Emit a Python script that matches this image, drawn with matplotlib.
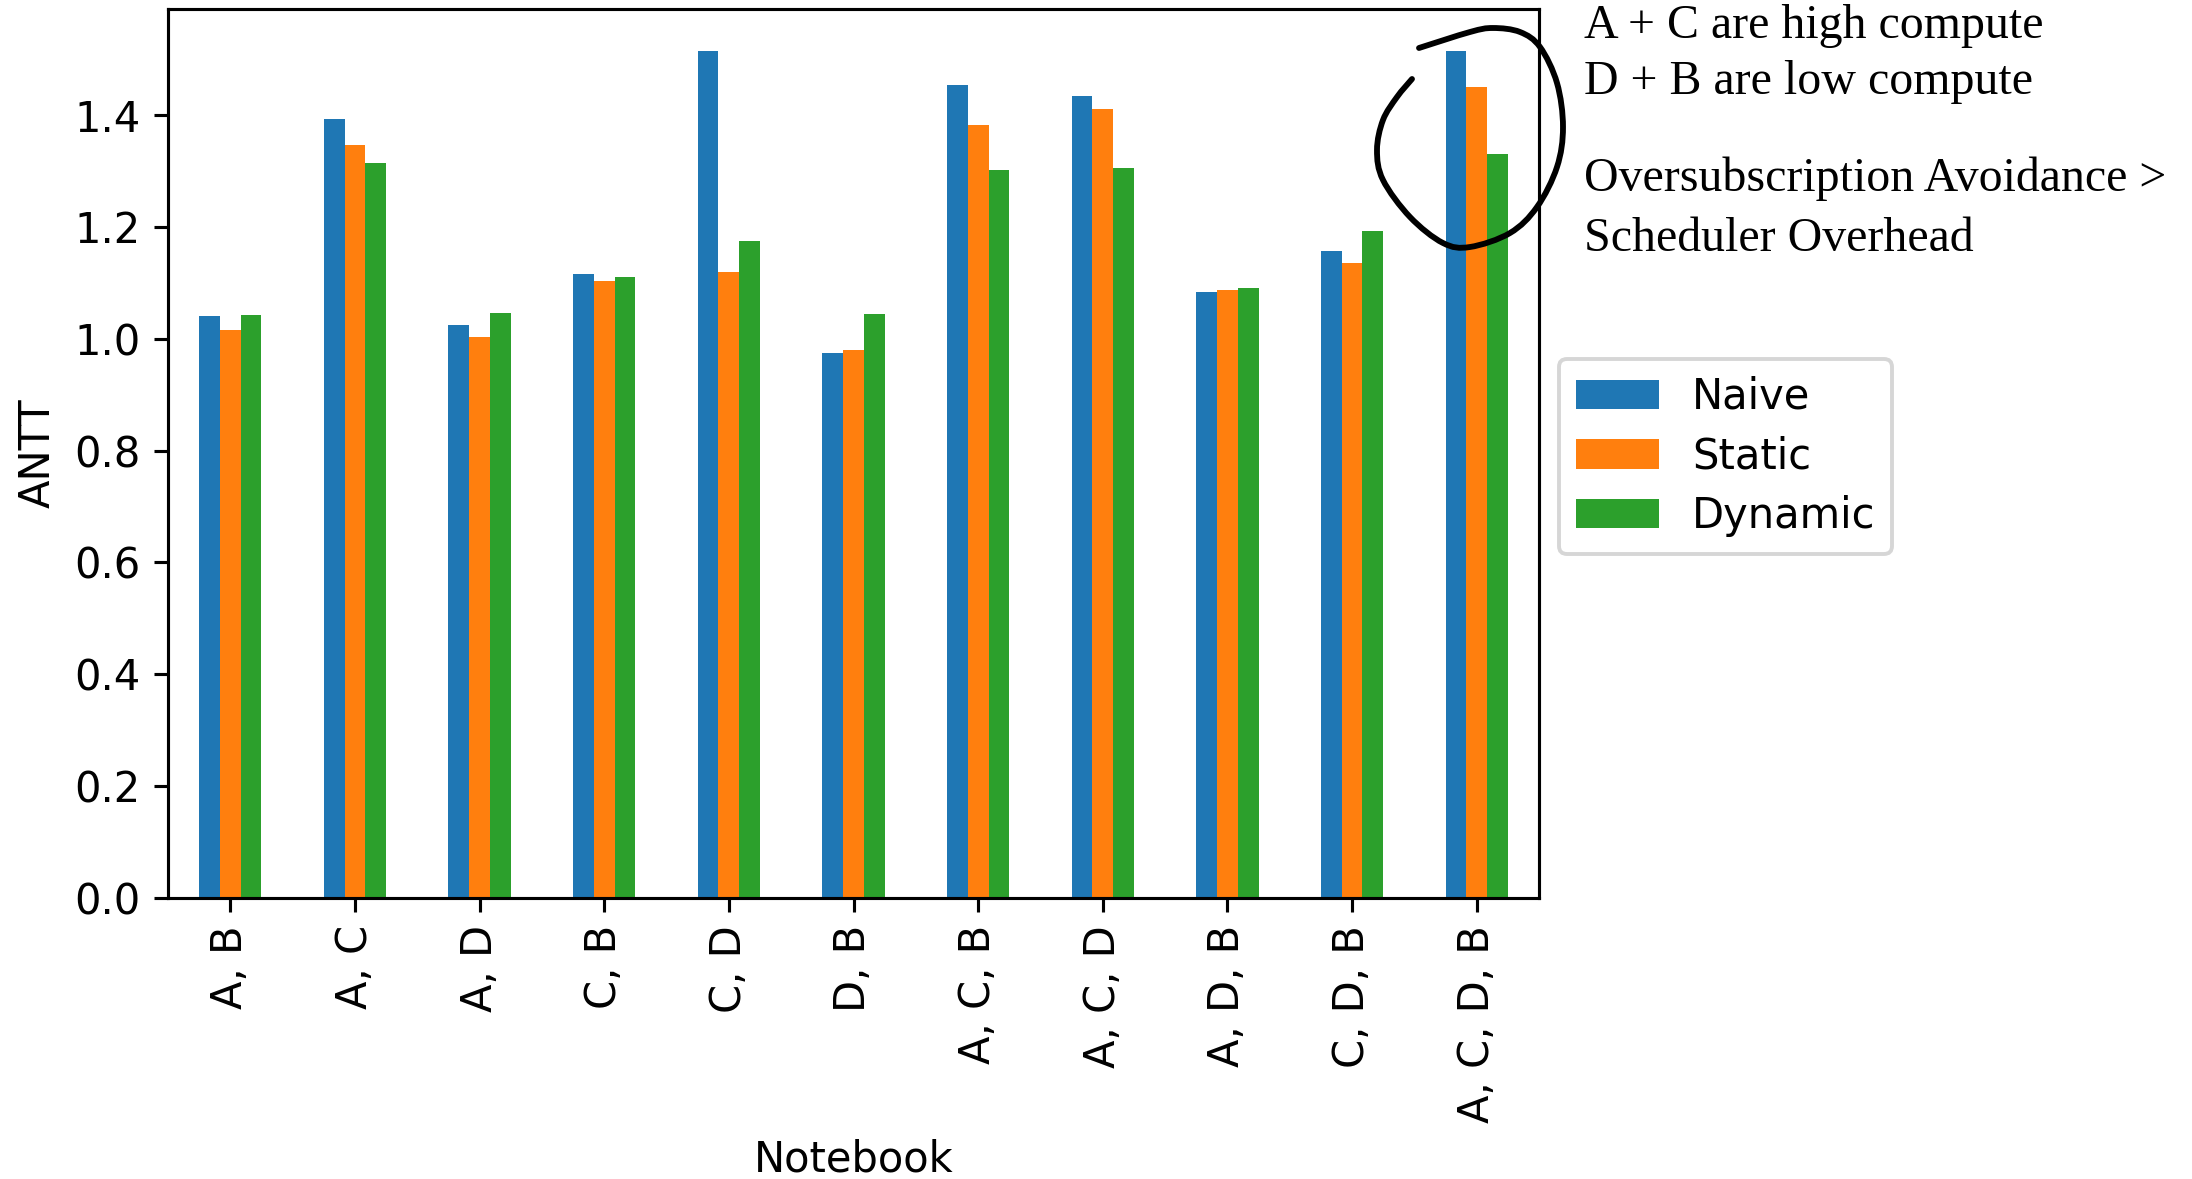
import numpy as np
import matplotlib
matplotlib.use("Agg")
import matplotlib.pyplot as plt
from matplotlib.path import Path
from matplotlib.patches import PathPatch

# data
notebooks = ["A, B", "A, C", "A, D", "C, B", "C, D", "D, B",
             "A, C, B", "A, C, D", "A, D, B", "C, D, B", "A, C, D, B"]
naive = [1.040, 1.393, 1.024, 1.115, 1.514, 0.975, 1.454, 1.435, 1.083, 1.157, 1.514]
static = [1.015, 1.346, 1.004, 1.104, 1.119, 0.980, 1.383, 1.411, 1.087, 1.135, 1.451]
dynamic = [1.043, 1.314, 1.046, 1.110, 1.175, 1.045, 1.302, 1.305, 1.091, 1.193, 1.331]
series_names = ["Naive", "Static", "Dynamic"]

notes = ["A + C are high compute", "D + B are low compute",
         "Oversubscription Avoidance >", "Scheduler Overhead"]

W, H = 2192, 1179
DPI = 280


def main():
    plt.rcParams["font.size"] = 10.7
    fig = plt.figure(figsize=(W / DPI, H / DPI), dpi=DPI)
    ax = fig.add_axes([168 / W, 1 - 898 / H, (1539 - 168) / W, (898 - 9) / H])

    x = np.arange(len(notebooks))
    w = 0.5 / 3
    colors = ["#1f77b4", "#ff7f0e", "#2ca02c"]
    for i, (name, vals) in enumerate(zip(series_names, [naive, static, dynamic])):
        ax.bar(x + (i - 1) * w, vals, width=w, color=colors[i], label=name)

    ax.set_xlim(-0.5, len(notebooks) - 0.5)
    ax.set_ylim(0, max(naive) * 1.05)
    ax.set_xticks(x)
    ax.set_xticklabels(notebooks, rotation=90)
    ax.set_xlabel("Notebook")
    ax.set_ylabel("ANTT")

    ax.legend(loc="upper left", bbox_to_anchor=(1559 / W, 1 - 359 / H),
              bbox_transform=fig.transFigure, borderaxespad=0, labelspacing=0.43)

    # notes on the right, in a serif face
    baselines = [38, 94, 191, 251]
    for t, yb in zip(notes, baselines):
        fig.text(1584 / W, 1 - yb / H, t, va="baseline", ha="left",
                 family="Liberation Serif", fontsize=12.3)

    # hand-drawn loop around the last group
    pts = np.array([(1419, 48), (1470, 32), (1493, 28), (1520, 32), (1540, 47),
                    (1557, 83), (1563, 127), (1557, 167), (1537, 207), (1510, 233),
                    (1470, 247), (1443, 243), (1410, 217), (1383, 180), (1377, 150),
                    (1383, 120), (1397, 97), (1412, 79)], dtype=float)
    pts[:, 0] = pts[:, 0] / W
    pts[:, 1] = 1 - pts[:, 1] / H
    P = np.vstack([pts[0], pts, pts[-1]])
    verts = [P[1]]
    codes = [Path.MOVETO]
    for k in range(1, len(P) - 2):
        c1 = P[k] + (P[k + 1] - P[k - 1]) / 6
        c2 = P[k + 1] - (P[k + 2] - P[k]) / 6
        verts += [c1, c2, P[k + 1]]
        codes += [Path.CURVE4] * 3
    loop = PathPatch(Path(verts, codes), fill=False, lw=1.5, ec="black",
                     capstyle="round", transform=fig.transFigure, clip_on=False)
    fig.add_artist(loop)

    fig.savefig("out.png", dpi=DPI)


if __name__ == "__main__":
    main()
